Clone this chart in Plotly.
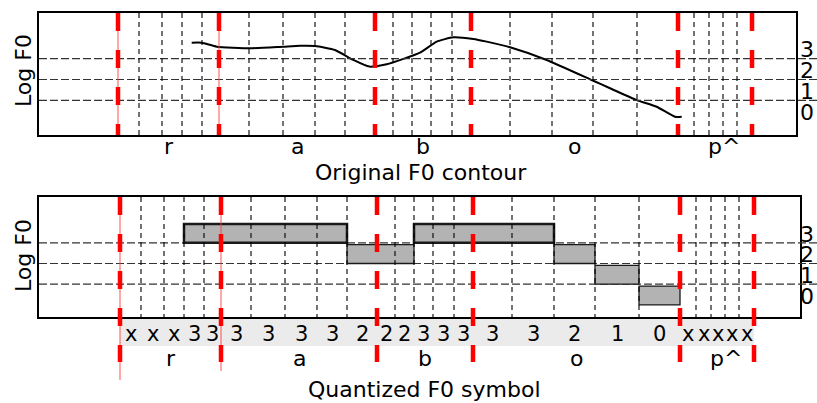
import plotly.graph_objects as go

# ---------------- data ----------------
frame_bounds = [79, 100, 123, 143, 163, 180, 210, 244, 276, 306, 336, 354, 373,
                392, 413, 432, 471, 513, 554, 598, 639, 655, 670, 684, 698, 713]
phone_bounds = [79, 180, 336, 432, 639, 713]
phonemes = ["r", "a", "b", "o", "p^"]
symbols = ["x", "x", "x", "3", "3",
           "3", "3", "3", "3", "2",
           "2", "2", "3", "3", "3",
           "3", "3", "2", "1", "0",
           "x", "x", "x", "x", "x"]
levels = ["0", "1", "2", "3"]
f0_x = [152.7, 162.7, 177.7, 211, 244.3, 261, 276, 296, 314.3, 330.3, 347.7, 381,
        397.7, 414.3, 434.3, 447.7, 471, 507.7, 554.3, 571, 597.7, 617.7, 636, 642.7]
f0_y = [3.77, 3.77, 3.58, 3.50, 3.58, 3.62, 3.61, 3.42, 2.94, 2.62, 2.73, 3.29,
        3.82, 4.03, 3.95, 3.82, 3.55, 2.94, 1.94, 1.58, 1.01, 0.69, 0.21, 0.21]

# ---------------- layout helpers ----------------
W, H = 817, 403
def px(x):
    return x / W
def py(y):
    return 1 - y / H

FONT = "DejaVu Sans"
fig = go.Figure()

fig.add_trace(go.Scatter(x=f0_x, y=f0_y, mode="lines", xaxis="x", yaxis="y",
                         line=dict(color="black", width=2, shape="spline", smoothing=0.5),
                         hoverinfo="skip", showlegend=False))

shapes = []
annotations = []

TOP = dict(x="x", y="y", top=13, bottom=135, lab_y=146)
BOT = dict(x="x2", y="y2", top=197, bottom=317, lab_y=358)

# grey band behind the symbols
shapes.append(dict(type="rect", xref="x2", yref="paper", layer="below",
                   x0=frame_bounds[0], x1=frame_bounds[-1], y0=py(346), y1=py(319),
                   fillcolor="#ebebeb", line=dict(width=0)))

for P in (TOP, BOT):
    # horizontal level separators
    for lv in (1, 2, 3):
        shapes.append(dict(type="line", xref="paper", yref=P["y"], x0=px(39), x1=1,
                           y0=lv, y1=lv, line=dict(color="#333333", width=1.2, dash="8px,3px")))
    for i, lab in enumerate(levels):
        annotations.append(dict(text=lab, xref="paper", yref=P["y"], x=px(807), y=i + 0.42,
                                showarrow=False, xanchor="center", yanchor="middle",
                                font=dict(family=FONT, size=22, color="black")))

# quantised bars (runs of equal level)
runs = []
i = 0
while i < len(symbols):
    s = symbols[i]
    j = i
    while j + 1 < len(symbols) and symbols[j + 1] == s:
        j += 1
    if s != "x":
        runs.append((i, j + 1, int(s)))
    i = j + 1
for a, b, lv in runs:
    shapes.append(dict(type="rect", xref="x2", yref="y2",
                       x0=frame_bounds[a], x1=frame_bounds[b], y0=lv, y1=lv + 0.91,
                       fillcolor="#b3b3b3",
                       line=dict(color="#1a1a1a", width=2.5 if lv == 3 else 1.3)))

for P in (TOP, BOT):
    # frame boundaries
    for xb in frame_bounds:
        if xb in phone_bounds:
            continue
        shapes.append(dict(type="line", xref=P["x"], yref="paper", x0=xb, x1=xb,
                           y0=py(P["top"]), y1=py(P["bottom"]),
                           line=dict(color="black", width=1.1, dash="5px,4px")))

# thin red lines for the first phoneme
for k, xb in enumerate(phone_bounds[:2]):
    shapes.append(dict(type="line", xref="x", yref="paper", x0=xb, x1=xb,
                       y0=py(13), y1=py(135), line=dict(color="rgba(255,60,60,0.6)", width=1.5)))
    shapes.append(dict(type="line", xref="x2", yref="paper", x0=xb, x1=xb,
                       y0=py(197), y1=py(380 if k == 0 else 371),
                       line=dict(color="rgba(255,60,60,0.6)", width=1.5)))

# phoneme boundaries (thick red dashed)
for xb in phone_bounds:
    shapes.append(dict(type="line", xref="x", yref="paper", x0=xb, x1=xb,
                       y0=py(13), y1=py(135), line=dict(color="#ff0000", width=4.5, dash="18px,19px")))
    shapes.append(dict(type="line", xref="x2", yref="paper", x0=xb, x1=xb,
                       y0=py(197), y1=py(362), line=dict(color="#ff0000", width=4.5, dash="18px,19px")))

# phoneme labels
for k, ph in enumerate(phonemes):
    xm = (phone_bounds[k] + phone_bounds[k + 1]) / 2
    shift = 9 if ph == "p^" else 0
    for P in (TOP, BOT):
        annotations.append(dict(text=ph, xref=P["x"], yref="paper", x=xm, y=py(P["lab_y"]),
                                xshift=shift, showarrow=False, xanchor="center", yanchor="middle",
                                font=dict(family=FONT, size=22, color="black")))

# symbols
for k, s in enumerate(symbols):
    xm = (frame_bounds[k] + frame_bounds[k + 1]) / 2
    annotations.append(dict(text=s, xref="x2", yref="paper", x=xm, y=py(334),
                            showarrow=False, xanchor="center", yanchor="middle",
                            font=dict(family=FONT, size=21, color="black")))

# titles and y labels
annotations.append(dict(text="Original F0 contour", xref="paper", yref="paper",
                        x=px(421), y=py(172), showarrow=False, xanchor="center", yanchor="middle",
                        font=dict(family=FONT, size=22, color="black")))
annotations.append(dict(text="Quantized F0 symbol", xref="paper", yref="paper",
                        x=px(424), y=py(389), showarrow=False, xanchor="center", yanchor="middle",
                        font=dict(family=FONT, size=22, color="black")))
for yc in (71, 256):
    annotations.append(dict(text="Log F0", xref="paper", yref="paper", x=px(23), y=py(yc),
                            textangle=-90, showarrow=False, xanchor="center", yanchor="middle",
                            font=dict(family=FONT, size=22, color="black")))

ax_common = dict(showgrid=False, zeroline=False, showticklabels=False, ticks="",
                 showline=True, mirror=True, linecolor="black", linewidth=2, fixedrange=True)

fig.update_layout(
    width=W, height=H, margin=dict(l=0, r=0, t=0, b=0),
    paper_bgcolor="white", plot_bgcolor="white", showlegend=False,
    xaxis=dict(domain=[px(39), px(796)], range=[0, 757], anchor="y", **ax_common),
    yaxis=dict(domain=[py(135), py(13)], range=[-0.668, 5.197], anchor="x", **ax_common),
    xaxis2=dict(domain=[px(39), px(800)], range=[-2, 759], anchor="y2", **ax_common),
    yaxis2=dict(domain=[py(317), py(197)], range=[-0.585, 5.213], anchor="x2", **ax_common),
    shapes=shapes, annotations=annotations,
)

fig.write_html("out.html")
